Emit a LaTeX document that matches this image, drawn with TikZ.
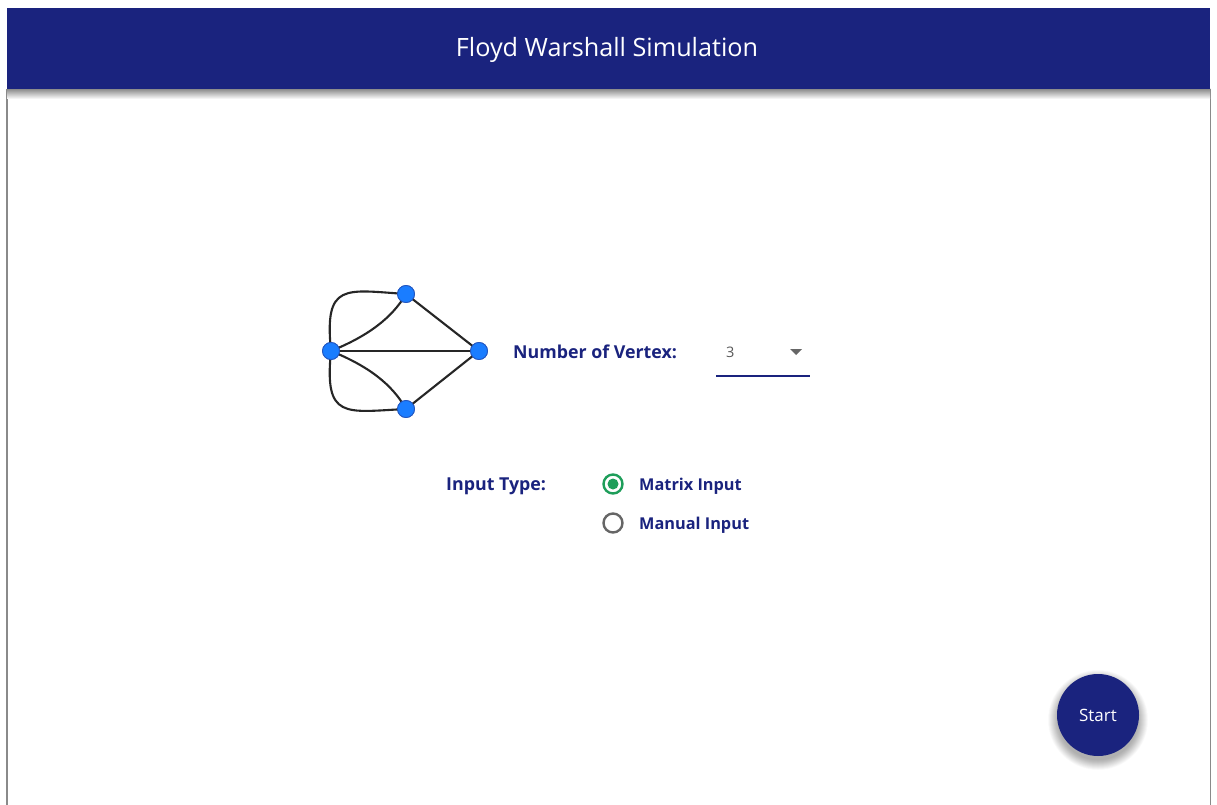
\documentclass[tikz,border=0pt]{standalone}
\usepackage{fontspec}
\setmainfont{Open Sans}
\definecolor{navy}{HTML}{1A237E}
\definecolor{vtx}{HTML}{1A7DFF}
\definecolor{vtxline}{HTML}{2457C0}
\definecolor{radiogreen}{HTML}{1E9E5A}
\definecolor{radiogray}{HTML}{666666}
\definecolor{frame}{HTML}{8A8A8A}
\tikzset{
  vertex/.style={circle, fill=vtx, draw=vtxline, line width=0.8pt, minimum size=17pt, inner sep=0pt},
  edge/.style={draw=black!85, line width=2.1pt},
  label/.style={text=navy, font=\bfseries\fontsize{17.8}{20}\selectfont, anchor=base west, inner sep=0pt},
  radiolabel/.style={text=navy, font=\bfseries\fontsize{16.3}{18}\selectfont, anchor=base west, inner sep=0pt},
  radio/.style={circle, line width=2.4pt, minimum size=19pt, inner sep=0pt},
}
\begin{document}
\begin{tikzpicture}[x=1pt, y=-1pt]
  \useasboundingbox (0,0) rectangle (1217,805);
  \fill[white] (0,0) rectangle (1217,805);
  % page frame
  \draw[frame, line width=1.2pt] (7,89) -- (7,805);
  \draw[frame, line width=1.2pt] (1210.5,89) -- (1210.5,805);
  % header bar with its shadow
  \shade[top color=black!45, bottom color=white] (7,89) rectangle (1210,99);
  \fill[navy] (7,8) rectangle (1210,89);
  \node[text=white, font=\fontsize{25.2}{30}\selectfont, anchor=base, inner sep=0pt] (title) at (607,57) {Floyd Warshall Simulation};

  % graph icon
  \node[vertex] (vl) at (331,351) {};
  \node[vertex] (vt) at (406,294) {};
  \node[vertex] (vr) at (479,351) {};
  \node[vertex] (vb) at (406,409) {};
  \draw[edge] (vl.center) -- (vr.center);
  \draw[edge] (vt.center) -- (vr.center);
  \draw[edge] (vb.center) -- (vr.center);
  \draw[edge] (vl.center) .. controls (368,336) and (392,318) .. (vt.center);
  \draw[edge] (vl.center) .. controls (368,366) and (392,384) .. (vb.center);
  \draw[edge] (vl.center) .. controls (324,282) and (345,290) .. (vt.center);
  \draw[edge] (vl.center) .. controls (324,420) and (345,412) .. (vb.center);
  \node[vertex] at (vl) {};
  \node[vertex] at (vt) {};
  \node[vertex] at (vr) {};
  \node[vertex] at (vb) {};

  % vertex count selector
  \node[label] (nv) at (513,358) {Number of Vertex:};
  \node[text=black!65, font=\fontsize{14.5}{16}\selectfont, anchor=base west, inner sep=0pt] (three) at (726,357) {3};
  \fill[black!60] (790,349) -- (802,349) -- (796,355) -- cycle;
  \coordinate (ulA) at (716,376);
  \coordinate (ulB) at (810,376);
  \draw[navy, line width=2.4pt] (ulA) -- (ulB);

  % input type choice
  \node[label] (it) at (446,490) {Input Type:};
  \node[radio, draw=radiogreen] (r1) at (613,484) {};
  \fill[radiogreen] (r1.center) circle (5.5pt);
  \node[radiolabel] (mi) at (639,490) {Matrix Input};
  \node[radio, draw=radiogray] (r2) at (613,523) {};
  \node[radiolabel] (man) at (639,529) {Manual Input};

  % start button with a soft drop shadow
  \foreach \r in {40,40.5,...,50}
    \fill[black, opacity=0.014] (1098,720) circle (\r pt);
  \node[circle, fill=navy, minimum size=82pt, inner sep=0pt,
        text=white, font=\fontsize{17}{20}\selectfont] (start) at (1098,715) {Start};
\end{tikzpicture}
\end{document}
